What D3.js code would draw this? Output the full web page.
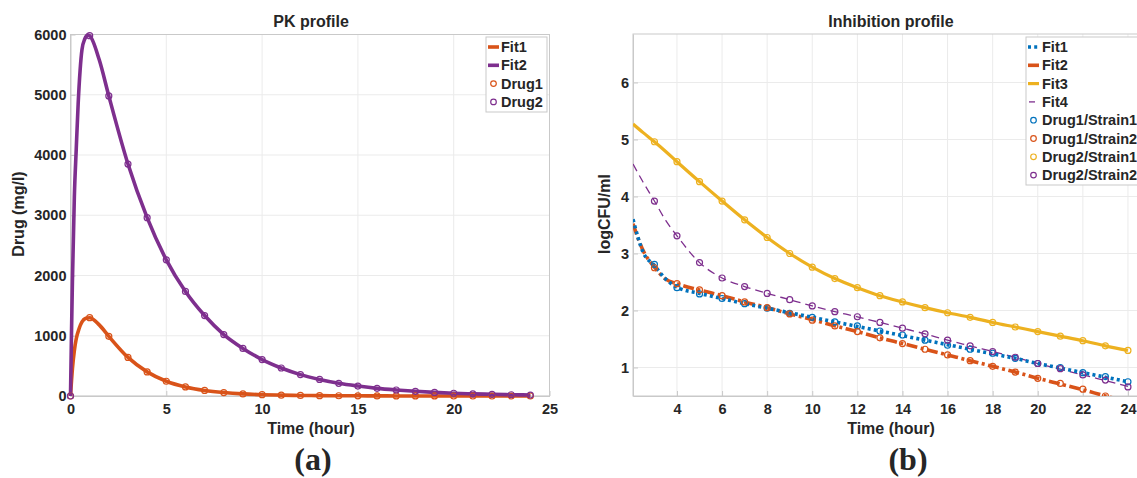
<!DOCTYPE html>
<html><head><meta charset="utf-8">
<script src="https://cdn.jsdelivr.net/npm/d3@7"></script>
<style>
html,body{margin:0;padding:0;background:#fff;}
svg text{font-family:"Liberation Sans",Arial,Helvetica,sans-serif;font-weight:bold;fill:#262626;}
</style></head>
<body>
<svg id="chart" width="1137" height="478"></svg>
<script>
// ---------- Panel (a): PK profile ----------
const pkFitTime1 = [0, 0.1, 0.2, 0.3, 0.45, 0.6, 0.8, 1, 1.5, 2, 3, 4, 5, 6, 7, 8, 9, 10, 11, 12, 13, 14, 15, 16, 17, 18, 19, 20, 21, 22, 23, 24];
const pkFit1 = [0, 450, 750, 950, 1120, 1230, 1290, 1300, 1180, 990, 640, 400, 245, 150, 92, 57, 35, 22, 14, 9, 6, 4, 3, 2, 1, 1, 1, 0, 0, 0, 0, 0];
const pkFitTime2 = [0, 0.05, 0.1, 0.2, 0.3, 0.4, 0.5, 0.6, 0.75, 0.9, 1, 1.5, 2, 3, 4, 5, 6, 7, 8, 9, 10, 11, 12, 13, 14, 15, 16, 17, 18, 19, 20, 21, 22, 23, 24];
const pkFit2 = [0, 1000, 1900, 3300, 4100, 4850, 5400, 5750, 5930, 5990, 5980, 5580, 4980, 3850, 2960, 2260, 1735, 1335, 1020, 790, 605, 465, 355, 275, 211, 165, 127, 100, 78, 60, 46, 36, 28, 21, 16];
const pkDrugTime = [0, 1, 2, 3, 4, 5, 6, 7, 8, 9, 10, 11, 12, 13, 14, 15, 16, 17, 18, 19, 20, 21, 22, 23, 24];
const pkDrug1 = [0, 1300, 990, 640, 400, 245, 150, 92, 57, 35, 22, 14, 9, 6, 4, 3, 2, 1, 1, 1, 0, 0, 0, 0, 0];
const pkDrug2 = [0, 5980, 4980, 3850, 2960, 2260, 1735, 1335, 1020, 790, 605, 465, 355, 275, 211, 165, 127, 100, 78, 60, 46, 36, 28, 21, 16];
const pkXTicks = [0, 5, 10, 15, 20, 25];
const pkYTicks = [0, 1000, 2000, 3000, 4000, 5000, 6000];

// ---------- Panel (b): Inhibition profile ----------
const inhFitTime = [2.05, 2.5, 3, 3.5, 4, 5, 6, 7, 8, 9, 10, 11, 12, 13, 14, 15, 16, 17, 18, 19, 20, 21, 22, 23, 24];
const inhFit1 = [3.60, 3.02, 2.79, 2.55, 2.41, 2.30, 2.21, 2.12, 2.04, 1.96, 1.88, 1.80, 1.72, 1.64, 1.56, 1.48, 1.40, 1.32, 1.24, 1.16, 1.07, 0.99, 0.91, 0.83, 0.75];
const inhFit2 = [3.52, 3.05, 2.76, 2.55, 2.47, 2.36, 2.26, 2.15, 2.05, 1.94, 1.84, 1.73, 1.63, 1.52, 1.42, 1.32, 1.22, 1.12, 1.02, 0.92, 0.81, 0.71, 0.61, 0.50, 0.40];
const inhFit3 = [5.27, 5.12, 4.96, 4.79, 4.61, 4.26, 3.92, 3.59, 3.28, 3.00, 2.76, 2.56, 2.40, 2.26, 2.15, 2.05, 1.96, 1.88, 1.79, 1.71, 1.63, 1.55, 1.47, 1.38, 1.30];
const inhFit4 = [4.57, 4.25, 3.92, 3.58, 3.31, 2.84, 2.57, 2.42, 2.30, 2.19, 2.08, 1.98, 1.89, 1.79, 1.69, 1.59, 1.48, 1.38, 1.28, 1.18, 1.07, 0.97, 0.87, 0.77, 0.67];
const inhDataTime = [3, 4, 5, 6, 7, 8, 9, 10, 11, 12, 13, 14, 15, 16, 17, 18, 19, 20, 21, 22, 23, 24];
const drug1Strain1 = [2.81, 2.40, 2.29, 2.21, 2.12, 2.04, 1.95, 1.88, 1.80, 1.73, 1.64, 1.57, 1.48, 1.39, 1.32, 1.25, 1.16, 1.07, 1.00, 0.91, 0.84, 0.75];
const drug1Strain2 = [2.75, 2.47, 2.36, 2.26, 2.15, 2.05, 1.94, 1.83, 1.73, 1.63, 1.52, 1.42, 1.32, 1.22, 1.12, 1.02, 0.92, 0.81, 0.72, 0.62, 0.50, 0.40];
const drug2Strain1 = [4.96, 4.61, 4.26, 3.92, 3.59, 3.28, 3.00, 2.76, 2.56, 2.40, 2.26, 2.15, 2.05, 1.96, 1.88, 1.79, 1.71, 1.63, 1.55, 1.47, 1.38, 1.30];
const drug2Strain2 = [3.92, 3.31, 2.84, 2.57, 2.42, 2.30, 2.19, 2.08, 1.98, 1.89, 1.79, 1.69, 1.59, 1.48, 1.38, 1.28, 1.18, 1.07, 0.98, 0.87, 0.78, 0.66];
const inhXTicks = [4, 6, 8, 10, 12, 14, 16, 18, 20, 22, 24];
const inhYTicks = [1, 2, 3, 4, 5, 6];

const C = {blue:"#0072BD", orange:"#D95319", yellow:"#EDB120", purple:"#7E2F8E"};
const axisColor = "#c9c9c9", gridColor = "#ebebeb";

const svg = d3.select("#chart");

function zip(xs, ys){ return xs.map((x,i)=>({x, y: ys[i]})); }

function drawAxes(g, x, y, xTicks, yTicks, id){
  const [x0,x1] = x.range(), [y0,y1] = y.range();
  g.append("g").selectAll("line").data(xTicks).join("line")
    .attr("x1", d=>x(d)).attr("x2", d=>x(d)).attr("y1", y0).attr("y2", y1)
    .attr("stroke", gridColor).attr("stroke-width", 1);
  g.append("g").selectAll("line").data(yTicks).join("line")
    .attr("x1", x0).attr("x2", x1).attr("y1", d=>y(d)).attr("y2", d=>y(d))
    .attr("stroke", gridColor).attr("stroke-width", 1);
  const fmt = d3.format("d");
  const xa = g.append("g").attr("transform", `translate(0,${y0})`)
    .call(d3.axisBottom(x).tickValues(xTicks).tickFormat(fmt).tickSize(-5).tickPadding(8).tickSizeOuter(0));
  const ya = g.append("g").attr("transform", `translate(${x0},0)`)
    .call(d3.axisLeft(y).tickValues(yTicks).tickFormat(fmt).tickSize(-5).tickPadding(4).tickSizeOuter(0));
  [xa, ya].forEach(a=>{
    a.select(".domain").attr("stroke", axisColor);
    a.selectAll(".tick line").attr("stroke", axisColor);
    a.selectAll(".tick text").attr("font-size", 14.5).attr("fill", "#262626");
  });
  g.append("rect").attr("x", x0).attr("y", y1).attr("width", x1-x0).attr("height", y0-y1)
    .attr("fill", "none").attr("stroke", axisColor).attr("stroke-width", 1);
  g.append("clipPath").attr("id", id).append("rect")
    .attr("x", x0).attr("y", y1).attr("width", x1-x0).attr("height", y0-y1);
}

// ===== Panel a =====
{
  const x = d3.scaleLinear().domain([0, 25]).range([70.5, 549.5]);
  const y = d3.scaleLinear().domain([0, 6000]).range([396, 34.5]);
  const g = svg.append("g");
  drawAxes(g, x, y, pkXTicks, pkYTicks, "clipA");
  const line = d3.line().x(d=>x(d.x)).y(d=>y(d.y)).curve(d3.curveMonotoneX);
  const plot = g.append("g");
  plot.append("path").datum(zip(pkFitTime1, pkFit1)).attr("d", line)
    .attr("fill","none").attr("stroke", C.orange).attr("stroke-width", 3.6);
  plot.append("path").datum(zip(pkFitTime2, pkFit2)).attr("d", line)
    .attr("fill","none").attr("stroke", C.purple).attr("stroke-width", 3.6);
  [[pkDrug1, C.orange],[pkDrug2, C.purple]].forEach(([vals,col])=>{
    plot.append("g").selectAll("circle").data(zip(pkDrugTime, vals)).join("circle")
      .attr("cx", d=>x(d.x)).attr("cy", d=>y(d.y)).attr("r", 3)
      .attr("fill","none").attr("stroke", col).attr("stroke-width", 1.2);
  });
  g.append("text").attr("x", 311).attr("y", 27).attr("text-anchor","middle").attr("font-size", 16).text("PK profile");
  g.append("text").attr("x", 311).attr("y", 434).attr("text-anchor","middle").attr("font-size", 16).text("Time (hour)");
  g.append("text").attr("transform", "translate(24,214) rotate(-90)").attr("text-anchor","middle").attr("font-size", 16).text("Drug (mg/l)");
  g.append("text").attr("x", 313).attr("y", 470).attr("text-anchor","middle")
    .style("font-family", "Liberation Serif, Times New Roman, serif").attr("font-size", 32).text("(a)");
  const lg = g.append("g");
  lg.append("rect").attr("x", 486).attr("y", 37).attr("width", 61).attr("height", 75)
    .attr("fill","#fff").attr("stroke", axisColor);
  const items = [["Fit1","line",C.orange],["Fit2","line",C.purple],["Drug1","circle",C.orange],["Drug2","circle",C.purple]];
  items.forEach(([lab,type,col],i)=>{
    const cy = 47 + i*18.3;
    if(type==="line") lg.append("line").attr("x1",488).attr("x2",499).attr("y1",cy).attr("y2",cy).attr("stroke",col).attr("stroke-width",3.6);
    else lg.append("circle").attr("cx",493.5).attr("cy",cy).attr("r",2.8).attr("fill","none").attr("stroke",col).attr("stroke-width",1.2);
    lg.append("text").attr("x", 501).attr("y", cy+5).attr("font-size", 14.5).text(lab);
  });
}

// ===== Panel b =====
{
  const x = d3.scaleLinear().domain([2.05, 25]).range([633, 1150.5]);
  const y = d3.scaleLinear().domain([0.5, 6.85]).range([396, 34]);
  const g = svg.append("g");
  drawAxes(g, x, y, inhXTicks, inhYTicks, "clipB");
  const line = d3.line().x(d=>x(d.x)).y(d=>y(d.y)).curve(d3.curveMonotoneX);
  const plot = g.append("g").attr("clip-path", "url(#clipB)");
  const fits = [
    [inhFit3, C.yellow, 3.2, null],
    [inhFit4, C.purple, 1.3, "8,5"],
    [inhFit2, C.orange, 3.6, "11,3.5,3,3.5"],
    [inhFit1, C.blue, 3.6, "3,3.2"]
  ];
  fits.forEach(([vals,col,w,dash])=>{
    const p = plot.append("path").datum(zip(inhFitTime, vals)).attr("d", line)
      .attr("fill","none").attr("stroke", col).attr("stroke-width", w);
    if(dash) p.attr("stroke-dasharray", dash);
  });
  [[drug1Strain1,C.blue],[drug1Strain2,C.orange],[drug2Strain1,C.yellow],[drug2Strain2,C.purple]].forEach(([vals,col])=>{
    plot.append("g").selectAll("circle").data(zip(inhDataTime, vals)).join("circle")
      .attr("cx", d=>x(d.x)).attr("cy", d=>y(d.y)).attr("r", 3)
      .attr("fill","none").attr("stroke", col).attr("stroke-width", 1.2);
  });
  g.append("text").attr("x", 891).attr("y", 27).attr("text-anchor","middle").attr("font-size", 16).text("Inhibition profile");
  g.append("text").attr("x", 891).attr("y", 434).attr("text-anchor","middle").attr("font-size", 16).text("Time (hour)");
  g.append("text").attr("transform", "translate(610,214) rotate(-90)").attr("text-anchor","middle").attr("font-size", 16).text("logCFU/ml");
  g.append("text").attr("x", 908).attr("y", 470).attr("text-anchor","middle")
    .style("font-family", "Liberation Serif, Times New Roman, serif").attr("font-size", 32).text("(b)");
  const lg = g.append("g");
  lg.append("rect").attr("x", 1026).attr("y", 37).attr("width", 130).attr("height", 148)
    .attr("fill","#fff").attr("stroke", axisColor);
  const items = [
    ["Fit1","line",C.blue,3.6,"3,3.2"],["Fit2","line",C.orange,3.6,null],["Fit3","line",C.yellow,3.2,null],["Fit4","line",C.purple,1.3,"dash4"],
    ["Drug1/Strain1","circle",C.blue],["Drug1/Strain2","circle",C.orange],["Drug2/Strain1","circle",C.yellow],["Drug2/Strain2","circle",C.purple]
  ];
  items.forEach(([lab,type,col,w,dash],i)=>{
    const cy = 47 + i*18.3;
    if(type==="line"){
      const l = lg.append("line").attr("y1",cy).attr("y2",cy).attr("stroke",col).attr("stroke-width",w);
      if(dash==="dash4") l.attr("x1",1029).attr("x2",1035);
      else { l.attr("x1",1028).attr("x2",1039); if(dash) l.attr("stroke-dasharray", dash); }
    } else lg.append("circle").attr("cx",1033.5).attr("cy",cy).attr("r",2.8).attr("fill","none").attr("stroke",col).attr("stroke-width",1.2);
    lg.append("text").attr("x", 1042).attr("y", cy+5).attr("font-size", 14.5).text(lab);
  });
}
</script>
</body></html>
